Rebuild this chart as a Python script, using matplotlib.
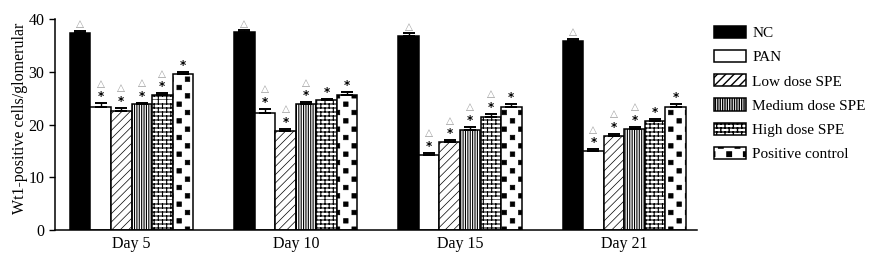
import warnings
import numpy as np
import matplotlib
matplotlib.use('Agg')
import matplotlib.pyplot as plt
from matplotlib import hatch as mhatch
from matplotlib.path import Path

warnings.filterwarnings('ignore')

days = ['Day 5', 'Day 10', 'Day 15', 'Day 21']
groups = ['NC', 'PAN', 'Low dose SPE', 'Medium dose SPE', 'High dose SPE', 'Positive control']

nc = [37.4, 37.5, 36.8, 35.8]
pan = [23.3, 22.1, 14.3, 15.0]
low = [22.6, 18.8, 16.7, 17.8]
med = [23.8, 23.8, 18.9, 19.1]
high = [25.6, 24.6, 21.5, 20.6]
pos = [29.6, 25.6, 23.4, 23.4]

nc_err = [0.4, 0.4, 0.5, 0.5]
pan_err = [0.7, 0.8, 0.3, 0.3]
low_err = [0.5, 0.3, 0.3, 0.4]
med_err = [0.3, 0.4, 0.6, 0.5]
high_err = [0.3, 0.3, 0.5, 0.5]
pos_err = [0.3, 0.5, 0.4, 0.4]

# marks above bars: triangle and star
tri = [[1, 1, 1, 1], [1, 1, 1, 1], [1, 1, 1, 1], [1, 1, 1, 1], [1, 0, 1, 0], [0, 0, 0, 0]]
star = [[0, 0, 0, 0], [1, 1, 1, 1], [1, 1, 1, 1], [1, 1, 1, 1], [1, 1, 1, 1], [1, 1, 1, 1]]


# custom hatch patterns: 'b' = brick wall, 's' = staggered squares
class BrickHatch(mhatch.HatchPatternBase):
    def __init__(self, hatch, density):
        n = hatch.count('b')
        self.rows = 25 * n
        self.cols = 12 * n
        self.num_vertices = (self.rows + self.rows * self.cols) * 2 if n else 0

    def set_vertices_and_codes(self, vertices, codes):
        k = 0
        for i in range(self.rows):
            y0 = i / self.rows
            y1 = (i + 1) / self.rows
            vertices[k] = (0, y0)
            vertices[k + 1] = (1, y0)
            codes[k] = Path.MOVETO
            codes[k + 1] = Path.LINETO
            k += 2
            for j in range(self.cols):
                x = (j + 0.5 * (i % 2)) / self.cols
                vertices[k] = (x, y0)
                vertices[k + 1] = (x, y1)
                codes[k] = Path.MOVETO
                codes[k + 1] = Path.LINETO
                k += 2


class SquareHatch(mhatch.HatchPatternBase):
    def __init__(self, hatch, density):
        n = hatch.count('s')
        self.tiles = 6 * n
        self.num_vertices = self.tiles * self.tiles * 2 * 5 if n else 0

    def set_vertices_and_codes(self, vertices, codes):
        t = self.tiles
        s = 0.045
        k = 0
        for i in range(t):
            for j in range(t):
                for (ox, oy) in [(0.25, 0.25), (0.75, 0.75)]:
                    cx = (j + ox) / t
                    cy = (i + oy) / t
                    sq = [(cx - s / 2, cy - s / 2), (cx + s / 2, cy - s / 2),
                          (cx + s / 2, cy + s / 2), (cx - s / 2, cy + s / 2),
                          (cx - s / 2, cy - s / 2)]
                    vertices[k:k + 5] = sq
                    codes[k:k + 5] = [Path.MOVETO, Path.LINETO, Path.LINETO,
                                      Path.LINETO, Path.CLOSEPOLY]
                    k += 5


mhatch._hatch_types.append(BrickHatch)
mhatch._hatch_types.append(SquareHatch)

plt.rcParams['font.family'] = ['Liberation Serif', 'DejaVu Sans']
plt.rcParams['font.size'] = 11.5

values = [nc, pan, low, med, high, pos]
errs = [nc_err, pan_err, low_err, med_err, high_err, pos_err]
styles = [
    dict(color='black', hatch=None, hlw=1.0),
    dict(color='white', hatch=None, hlw=1.0),
    dict(color='white', hatch='////', hlw=0.5),
    dict(color='white', hatch='|||||||', hlw=0.8),
    dict(color='white', hatch='b', hlw=0.8),
    dict(color='white', hatch='s', hlw=0.5),
]

fig = plt.figure(figsize=(8.72, 2.54), dpi=100)
ax = fig.add_axes([0.063, 0.0945, 0.736, 0.8305])

x_base = np.arange(len(days)) * 8.0
for j, (vals, err, st) in enumerate(zip(values, errs, styles)):
    x = x_base + j
    with plt.rc_context({'hatch.linewidth': st['hlw']}):
        ax.bar(x, vals, width=1.0, color=st['color'], edgecolor='black',
               linewidth=1.1, hatch=st['hatch'], label=groups[j])
    ax.errorbar(x, vals, yerr=[np.zeros(len(vals)), err], fmt='none',
                ecolor='black', elinewidth=1.0, capsize=4, capthick=1.4)
    for d in range(len(days)):
        top = vals[d] + err[d]
        y = top + 1.25
        if star[j][d]:
            ax.text(x[d], y, '*', ha='center', va='center', fontsize=8.5,
                    fontweight='bold', family=['DejaVu Sans'])
            y += 2.5
        if tri[j][d]:
            ax.text(x[d], y, '△', ha='center', va='center', fontsize=7.5,
                    color='#999999', family=['DejaVu Sans'])

ax.set_xlim(-1.23, 30.03)
ax.set_ylim(0, 40)
ax.set_yticks([0, 10, 20, 30, 40])
ax.set_xticks(x_base + 2.5)
ax.set_xticklabels(days)
ax.tick_params(axis='x', length=0, pad=4, labelsize=11.5)
ax.tick_params(axis='y', direction='out', length=4, width=1, labelsize=11.5)
ax.set_ylabel('Wt1-positive cells/glomerular', fontsize=11.5)
ax.yaxis.set_label_coords(-0.042, 0.53)
ax.spines['top'].set_visible(False)
ax.spines['right'].set_visible(False)
ax.spines['left'].set_linewidth(1.1)
ax.spines['bottom'].set_linewidth(1.1)

fig.legend(loc='upper left', bbox_to_anchor=(0.810, 0.928), frameon=False,
           handlelength=2.1, handleheight=0.85, labelspacing=0.64,
           handletextpad=0.4, borderpad=0, fontsize=11)

fig.savefig('out.png', dpi=100)
